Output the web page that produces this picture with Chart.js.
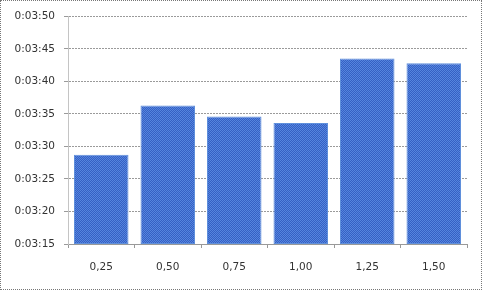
<!DOCTYPE html>
<html>
<head>
<meta charset="utf-8">
<script src="https://cdn.jsdelivr.net/npm/chart.js@4"></script>
<style>
  html, body { margin: 0; padding: 0; background: #fff; }
  #wrap {
    position: relative;
    width: 480px;
    height: 288px;
    border: 1px dotted #777;
  }
</style>
</head>
<body>
<div id="wrap"><canvas id="chart"></canvas></div>
<script>
// Categories and bar values (seconds, time of day 0:03:xx)
const categories = ['0,25', '0,50', '0,75', '1,00', '1,25', '1,50'];
const durations = [208.7, 216.3, 214.6, 213.6, 223.5, 222.8];
const yMin = 195;
const yMax = 230;

function fmtTime(v) {
    const m = Math.floor(v / 60);
    const s = Math.round(v - m * 60);
    return '0:' + String(m).padStart(2, '0') + ':' + String(s).padStart(2, '0');
}

// Excel-ish fine checker fill
function makePattern() {
    const c = document.createElement('canvas');
    c.width = 2;
    c.height = 2;
    const g = c.getContext('2d');
    g.fillStyle = '#3560c4';
    g.fillRect(0, 0, 2, 2);
    g.fillStyle = '#5585de';
    g.fillRect(0, 0, 1, 1);
    g.fillRect(1, 1, 1, 1);
    return g.createPattern(c, 'repeat');
}

const tickFont = { family: 'DejaVu Sans', size: 10.5 };

const ctx = document.getElementById('chart').getContext('2d');
new Chart(ctx, {
    type: 'bar',
    data: {
        labels: categories,
        datasets: [{
            data: durations.map(v => [yMin, v]),
            backgroundColor: makePattern(),
            borderColor: '#6090dc',
            borderWidth: 1,
            borderSkipped: false,
            categoryPercentage: 1.0,
            barPercentage: 0.82
        }]
    },
    options: {
        responsive: true,
        maintainAspectRatio: false,
        animation: false,
        layout: { padding: { top: 11, right: 14, bottom: 0, left: 0 } },
        plugins: {
            legend: { display: false },
            tooltip: { enabled: false }
        },
        scales: {
            x: {
                grid: {
                    drawOnChartArea: false,
                    drawTicks: true,
                    tickLength: 4,
                    color: '#999'
                },
                border: { color: '#999' },
                ticks: {
                    color: '#333',
                    padding: 13,
                    font: tickFont
                },
                afterFit: (s) => { s.height = 45; }
            },
            y: {
                min: yMin,
                max: yMax,
                ticks: {
                    stepSize: 5,
                    color: '#333',
                    padding: 9,
                    font: tickFont,
                    callback: (v) => fmtTime(v)
                },
                grid: {
                    color: '#9a9a9a',
                    tickLength: 4,
                    lineWidth: 1
                },
                border: { color: '#c4c4c4', dash: [2, 1] },
                afterFit: (s) => { s.width = 67; }
            }
        }
    }
});
</script>
</body>
</html>
